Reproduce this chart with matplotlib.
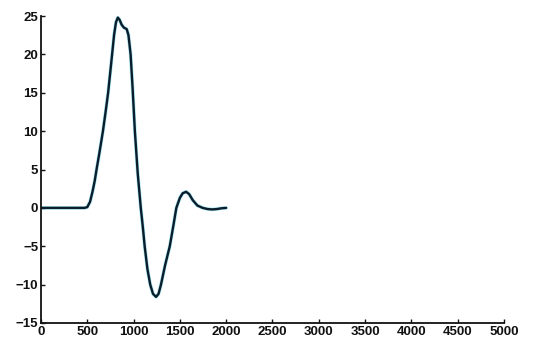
import matplotlib
matplotlib.use("Agg")
import matplotlib.pyplot as plt

# values
time_x = [0, 200, 400, 470, 500, 530, 556, 580, 600, 630, 669, 700, 725, 750, 768, 790,
          810, 830, 850, 870, 895, 926, 945, 968, 990, 1014, 1045, 1078, 1100, 1120,
          1150, 1180, 1210, 1243, 1270, 1296, 1340, 1391, 1430, 1462, 1500, 1530, 1567,
          1600, 1640, 1690, 1747, 1800, 1850, 1900, 1950, 2000]
signal = [0, 0, 0, 0, 0.1, 0.8, 2.1, 3.5, 5.0, 7.1, 10.0, 12.7, 15.0, 17.9, 20.0, 22.6,
          24.2, 24.8, 24.5, 23.9, 23.5, 23.3, 22.5, 20.0, 15.5, 10.0, 4.5, 0.0, -2.5, -5.0,
          -8.0, -10.0, -11.2, -11.6, -11.2, -10.0, -7.5, -5.0, -2.3, 0.0, 1.3, 1.9, 2.1,
          1.8, 1.0, 0.3, 0.0, -0.15, -0.2, -0.15, -0.05, 0.0]

xticks = list(range(0, 5001, 500))
yticks = list(range(-15, 26, 5))


def main() -> None:
    plt.rcParams["font.family"] = ["Liberation Sans", "DejaVu Sans"]
    fig = plt.figure(figsize=(5.36, 3.42), dpi=100, facecolor="white")
    ax = fig.add_axes([0.0765, 0.0556, 0.8635, 0.8974])

    ax.plot(time_x, signal, color="#4fd0e8", linewidth=2.6, alpha=0.5, solid_capstyle="round")
    ax.plot(time_x, signal, color="#0b1c2a", linewidth=1.7, solid_capstyle="round",
            solid_joinstyle="round")

    ax.set_xlim(0, 5000)
    ax.set_ylim(-15, 25)
    ax.set_xticks(xticks)
    ax.set_yticks(yticks)
    for spine in ("top", "right"):
        ax.spines[spine].set_visible(False)
    for spine in ("left", "bottom"):
        ax.spines[spine].set_linewidth(1.3)
        ax.spines[spine].set_color("#111111")
    ax.tick_params(axis="both", direction="in", length=3, width=1.0, colors="#111111",
                   labelsize=9.5, pad=2)
    for label in ax.get_xticklabels() + ax.get_yticklabels():
        label.set_fontweight("bold")

    fig.savefig("out.png", dpi=100, facecolor="white")
    plt.close(fig)


if __name__ == "__main__":
    main()
